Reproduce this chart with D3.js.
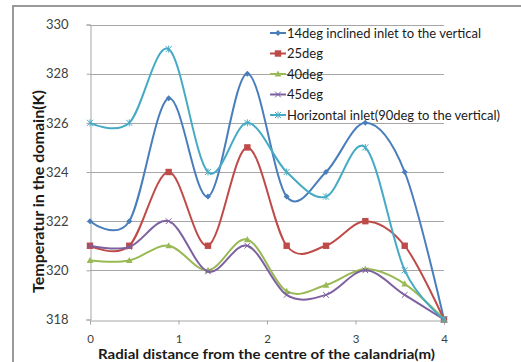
<!DOCTYPE html>
<html>
<head>
<meta charset="utf-8">
<script src="https://cdn.jsdelivr.net/npm/d3@7"></script>
<style>
  body { margin: 0; background: #fff; }
  text { font-family: Lato, "Open Sans", sans-serif; }
</style>
</head>
<body>
<div id="chart"></div>
<script>
// x positions (m) of the sample points
var distance = [0, 0.444, 0.889, 1.333, 1.778, 2.222, 2.667, 3.111, 3.556, 4];

// temperature (K) per inlet angle
var deg14 = [322, 322, 327, 323, 328, 323, 324, 326, 324, 318];
var deg25 = [321, 321, 324, 321, 325, 321, 321, 322, 321, 318];
var deg40 = [320.4, 320.4, 321, 320, 321.25, 319.15, 319.4, 320.05, 319.45, 318];
var deg45 = [321, 320.95, 322, 319.95, 321, 319, 319, 320, 319, 318];
var horizontal = [326, 326, 329, 324, 326, 324, 323, 325, 320, 318];

var seriesNames = ["14deg inclined inlet to the vertical", "25deg", "40deg", "45deg",
    "Horizontal inlet(90deg to the vertical)"];
var xTicks = [0, 1, 2, 3, 4];
var yTicks = [318, 320, 322, 324, 326, 328, 330];

var colors = ["#4a7ebb", "#be4b48", "#98b954", "#7d60a0", "#46aac5"],
    symbols = ["diamond", "square", "triangle", "cross", "star"];

var series = [deg14, deg25, deg40, deg45, horizontal].map(function(vals, i) {
    return {
        name: seriesNames[i],
        color: colors[i],
        symbol: symbols[i],
        values: vals.map(function(v, j) { return { x: distance[j], y: v }; })
    };
});

var width = 521,
    height = 362;

var svg = d3.select("#chart")
    .append("svg")
    .attr("width", width)
    .attr("height", height);

// chart frame
svg.append("path")
    .attr("d", "M13,362 V6 H521")
    .attr("fill", "none")
    .attr("stroke", "#9a9a9a")
    .attr("stroke-width", 2);

var x = d3.scaleLinear().domain([0, 4]).range([90, 444]),
    y = d3.scaleLinear().domain([318, 330]).range([319.5, 24.5]);

// gridlines
svg.append("g")
    .selectAll("line")
    .data(yTicks.slice(1))
    .enter().append("line")
    .attr("x1", x(0))
    .attr("x2", x(4))
    .attr("y1", function(d) { return Math.round(y(d)) + 0.5; })
    .attr("y2", function(d) { return Math.round(y(d)) + 0.5; })
    .attr("stroke", "#a6a6a6");

// y axis
var yAxis = svg.append("g")
    .attr("transform", "translate(" + (x(0) + 0.5) + ",0)")
    .call(d3.axisLeft(y).tickValues(yTicks).tickSize(4).tickPadding(18));

// x axis
var xAxis = svg.append("g")
    .attr("transform", "translate(0," + (Math.round(y(318)) + 0.5) + ")")
    .call(d3.axisBottom(x).tickValues(xTicks).tickFormat(d3.format("d")).tickSize(4).tickPadding(10));

[yAxis, xAxis].forEach(function(ax) {
    ax.select(".domain").attr("stroke", "#a6a6a6");
    ax.selectAll(".tick line").attr("stroke", "#a6a6a6");
    ax.selectAll(".tick text")
        .attr("fill", "#404040")
        .style("font-size", "13px")
        .style("font-family", "Lato, 'Open Sans', sans-serif");
});
xAxis.selectAll(".tick text").style("font-size", "11.5px");

// axis titles
svg.append("text")
    .attr("x", 98)
    .attr("y", 359)
    .attr("textLength", 337)
    .attr("lengthAdjust", "spacingAndGlyphs")
    .style("font-size", "14px")
    .style("font-weight", "bold")
    .attr("fill", "#1a1a1a")
    .text("Radial distance from  the centre of the calandria(m)");

svg.append("text")
    .attr("transform", "translate(44,293) rotate(-90)")
    .attr("textLength", 203)
    .attr("lengthAdjust", "spacingAndGlyphs")
    .style("font-size", "14.5px")
    .style("font-weight", "bold")
    .attr("fill", "#1a1a1a")
    .text("Temperatur in the domain(K)");

// smoothed lines like excel
var line = d3.line()
    .x(function(d) { return x(d.x); })
    .y(function(d) { return y(d.y); })
    .curve(d3.curveCardinal.tension(0));

function marker(sel, s) {
    var c = s.color;
    if (s.symbol === "diamond") {
        sel.append("path").attr("d", "M0,-3L3,0L0,3L-3,0Z").attr("fill", c);
    } else if (s.symbol === "square") {
        sel.append("rect").attr("x", -3.2).attr("y", -3.2).attr("width", 6.4).attr("height", 6.4).attr("fill", c);
    } else if (s.symbol === "triangle") {
        sel.append("path").attr("d", "M0,-3.5L3.3,2.6L-3.3,2.6Z").attr("fill", c);
    } else if (s.symbol === "cross") {
        sel.append("path").attr("d", "M-2.8,-2.8L2.8,2.8M-2.8,2.8L2.8,-2.8").attr("stroke", c).attr("stroke-width", 1);
    } else {
        sel.append("path").attr("d", "M-3,-3L3,3M-3,3L3,-3M0,-3.5V3.5").attr("stroke", c).attr("stroke-width", 1);
    }
}

var lines = svg.append("g")
    .selectAll("g")
    .data(series)
    .enter().append("g");

lines.append("path")
    .attr("d", function(d) { return line(d.values); })
    .attr("fill", "none")
    .attr("stroke", function(d) { return d.color; })
    .attr("stroke-width", 2);

lines.each(function(s) {
    d3.select(this).selectAll("g.pt")
        .data(s.values)
        .enter().append("g")
        .attr("class", "pt")
        .attr("transform", function(d) { return "translate(" + x(d.x) + "," + y(d.y) + ")"; })
        .each(function() { marker(d3.select(this), s); });
});

// legend
var legend = svg.append("g")
    .selectAll("g")
    .data(series)
    .enter().append("g")
    .attr("transform", function(d, i) { return "translate(270," + (33 + i * 20.5) + ")"; });

legend.append("line")
    .attr("x1", 0)
    .attr("x2", 16)
    .attr("stroke", function(d) { return d.color; })
    .attr("stroke-width", 2);

legend.append("g")
    .attr("transform", "translate(8,0)")
    .each(function(s) { marker(d3.select(this), s); });

legend.append("text")
    .attr("x", 17)
    .attr("y", 4.5)
    .attr("fill", "#1a1a1a")
    .style("font-size", "13px")
    .text(function(d) { return d.name; });
</script>
</body>
</html>
